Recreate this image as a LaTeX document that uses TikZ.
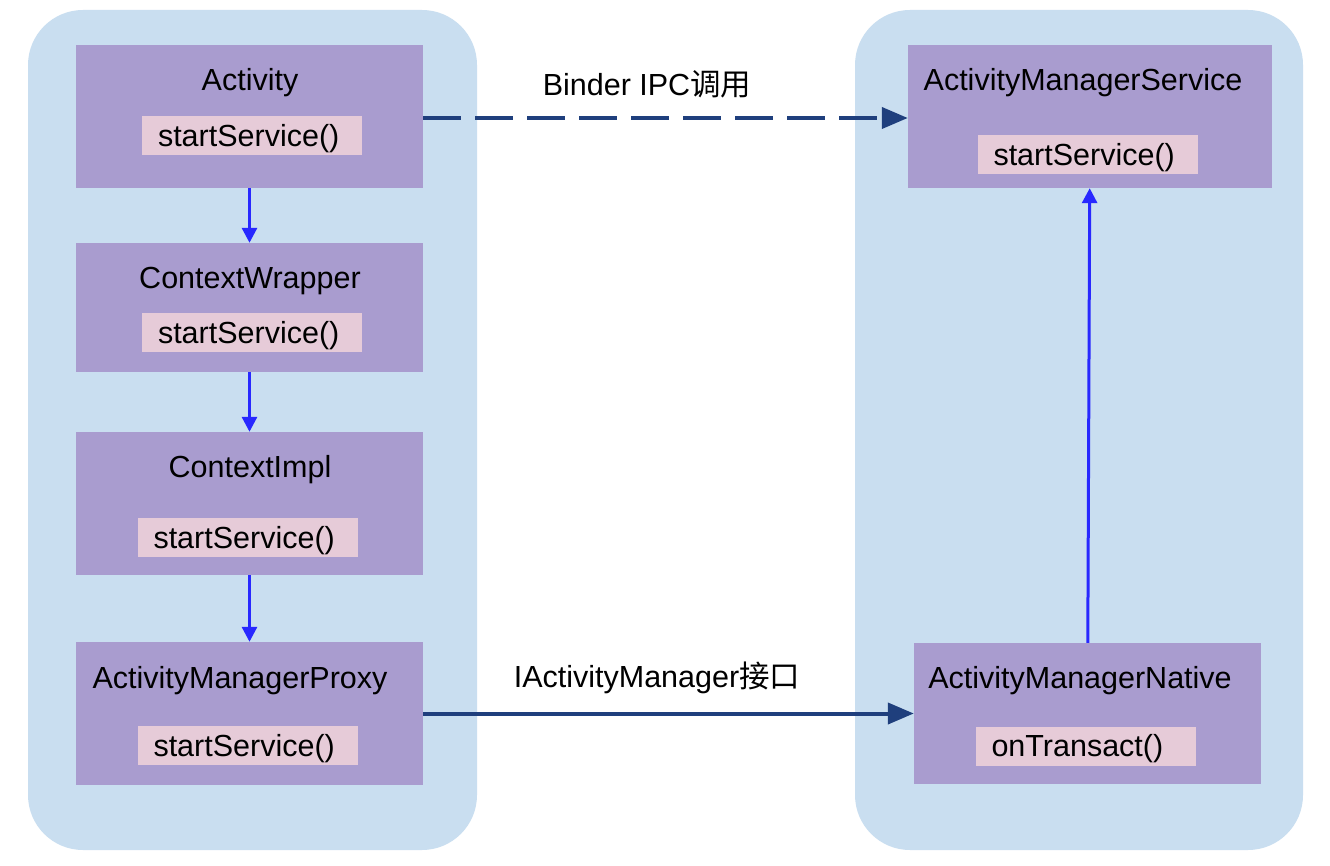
\documentclass[tikz,border=0pt]{standalone}
\usepackage{fontspec}
\setmainfont{Liberation Sans}
\newfontfamily\cjk{Noto Sans CJK SC}
\usetikzlibrary{arrows.meta}
\definecolor{contbg}{RGB}{201,222,240}
\definecolor{classbg}{RGB}{169,156,207}
\definecolor{methbg}{RGB}{230,203,216}
\definecolor{callblue}{RGB}{40,40,255}
\definecolor{ipcnavy}{RGB}{31,63,125}
\tikzset{
  container/.style={fill=contbg, draw=none, rounded corners=55pt, inner sep=0pt},
  classbox/.style={fill=classbg, draw=none, inner sep=0pt},
  methbox/.style={fill=methbg, draw=none, inner ysep=0pt, inner xsep=16pt, text width=188pt, align=left,
    minimum height=39pt,
    font=\fontsize{30.5}{34}\selectfont, text height=21.8pt, text depth=0pt},
  title/.style={inner sep=0pt, font=\fontsize{30.5}{34}\selectfont, text height=21.8pt, text depth=0pt},
  lbl/.style={inner sep=0pt, font=\fontsize{30.5}{34}\selectfont, text height=21.8pt, text depth=0pt},
  localcall/.style={draw=callblue, line width=3pt, -{Triangle[length=15pt,width=15pt]}},
  ipccall/.style={draw=ipcnavy, line width=4pt, -{Triangle[length=26pt,width=21pt]}},
}
\begin{document}
\begin{tikzpicture}[x=1pt,y=-1pt]
\useasboundingbox (0,0) rectangle (1330,866);
\fill[white] (0,0) rectangle (1330,866);
% containers
\node[container, minimum width=449pt, minimum height=840pt] (leftpanel) at (252.5,430) {};
\node[container, minimum width=448pt, minimum height=840pt] (rightpanel) at (1079,430) {};
% left column class boxes
\node[classbox, minimum width=347pt, minimum height=143pt] (act) at (249.5,116.5) {};
\node[classbox, minimum width=347pt, minimum height=129pt] (cw) at (249.5,307.5) {};
\node[classbox, minimum width=347pt, minimum height=143pt] (ci) at (249.5,503.5) {};
\node[classbox, minimum width=347pt, minimum height=143pt] (amp) at (249.5,713.5) {};
% right column class boxes
\node[classbox, minimum width=364pt, minimum height=143pt] (ams) at (1090,116.5) {};
\node[classbox, minimum width=347pt, minimum height=141pt] (amn) at (1087.5,713.5) {};
% titles
\node[title] (acttitle) at (250,80) {Activity};
\node[title] (cwtitle) at (250,278) {ContextWrapper};
\node[title] (cititle) at (250,467) {ContextImpl};
\node[title] (amptitle) at (240,678) {ActivityManagerProxy};
\node[title] (amstitle) at (1083,80) {ActivityManagerService};
\node[title] (amntitle) at (1080,678) {ActivityManagerNative};
% methods
\node[methbox] (actm) at (252,135.5) {startService()};
\node[methbox] (cwm) at (252,332.5) {startService()};
\node[methbox] (cim) at (247.5,537.5) {startService()};
\node[methbox] (ampm) at (247.5,745.5) {startService()};
\node[methbox] (amsm) at (1087.5,154.5) {startService()};
\node[methbox] (amnm) at (1085.5,746) {onTransact()};
% local calls
\draw[localcall] (act) -- (cw);
\draw[localcall] (cw) -- (ci);
\draw[localcall] (ci) -- (amp);
\draw[localcall] (amn) -- (ams);
% ipc calls
\draw[ipccall, dash pattern=on 38pt off 14pt] ([yshift=-1.5pt]act.east) -- ([yshift=-1.5pt]act.east -| ams.west);
\draw[ipccall] (amp.east) -- (amp.east -| amn.west);
% labels
\node[lbl] (binderlbl) at (647,85) {Binder IPC{\cjk 调用}};
\node[lbl] (iamlbl) at (657,677) {IActivityManager{\cjk 接口}};
\end{tikzpicture}
\end{document}
